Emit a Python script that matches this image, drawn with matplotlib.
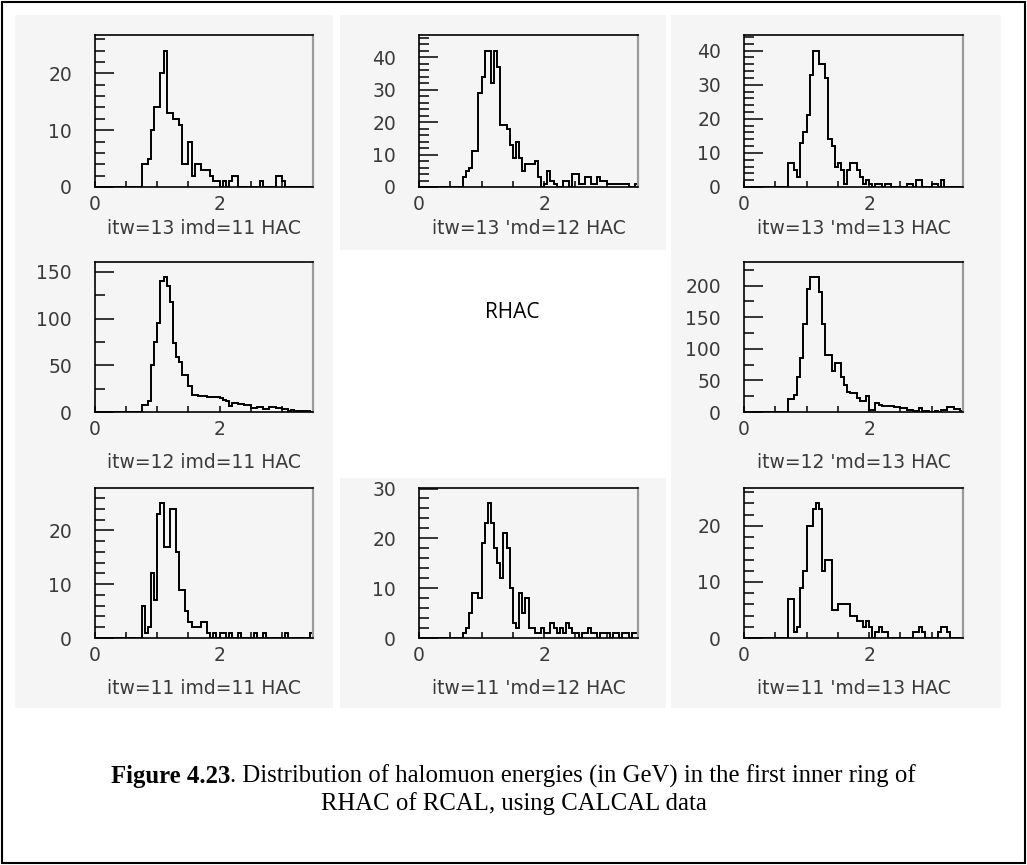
import numpy as np
import matplotlib
matplotlib.use("Agg")
import matplotlib.pyplot as plt
from matplotlib.ticker import MultipleLocator, FixedLocator
from matplotlib.patches import Rectangle

# ---------------- data (counts per 0.05 GeV bin, 0 - 3.5 GeV) ----------------
E_LOW, E_HIGH, N_BINS = 0.0, 3.5, 70

itw13_imd11 = [0,0,0,0,0,0,0,0,0,0, 0,0,0,0,0,4,4,5,10,14, 14,20,24,13,13,12,12,11,4,4,
               8,2,4,4,3,3,3,2,1,1, 0,1,0,1,2,2,0,0,0,0, 0,0,0,1,0,0,0,0,2,2, 1,0,0,0,0,0,0,0,0,0]
itw13_imd12 = [0,0,0,0,0,0,0,0,0,0, 0,0,0,0,3,5,6,11,11,29, 34,42,42,32,42,37,19,19,18,13,
               9,14,9,5,7,7,7,8,3,0, 1,5,2,1,0,0,2,2,0,4, 4,1,1,3,3,1,1,3,2,2, 1,1,1,1,1,1,1,0,0,1]
itw13_imd13 = [0,0,0,0,0,0,0,0,0,0, 0,0,0,0,7,7,5,3,13,16, 21,33,40,40,36,36,32,14,12,6,
               7,5,1,5,7,7,5,3,1,2, 1,0,1,1,0,1,1,0,0,0, 0,0,1,1,0,2,2,0,0,0, 1,1,0,2,0,0,0,0,0,0]
itw12_imd11 = [0,0,0,0,0,0,0,0,0,0, 0,0,0,0,0,8,8,12,50,75, 95,140,144,135,118,74,59,54,40,40,
               28,18,18,17,17,17,16,16,16,16, 15,13,12,6,10,10,9,9,7,7, 4,4,5,5,3,3,5,5,4,4,
               3,3,1,2,1,1,1,1,1,0]
itw12_imd13 = [0,0,0,0,0,0,0,0,0,0, 0,0,0,0,20,20,27,55,85,140, 195,213,213,213,190,140,90,90,65,78,
               78,55,42,32,30,30,22,18,18,25, 3,3,15,11,9,9,10,10,8,8, 6,6,3,3,1,1,6,2,1,0,
               0,1,0,3,3,8,8,4,4,1]
itw11_imd11 = [0,0,0,0,0,0,0,0,0,0, 0,0,0,0,0,6,1,2,12,7, 23,25,17,17,24,24,16,9,9,5,
               3,2,2,2,3,3,1,0,1,0, 1,1,0,1,0,0,1,0,0,0, 0,1,0,0,1,0,0,0,0,0, 0,1,0,0,0,0,0,0,0,1]
itw11_imd12 = [0,0,0,0,0,0,0,0,0,0, 0,0,0,0,1,2,5,9,9,8, 19,23,27,23,18,15,12,21,18,10,
               3,2,9,5,8,2,2,1,1,2, 1,1,3,2,1,2,1,3,2,1, 1,0,1,1,2,1,1,0,1,1, 1,0,1,1,0,1,1,0,1,1]
itw11_imd13 = [0,0,0,0,0,0,0,0,0,0, 0,0,0,0,7,7,1,2,9,12, 20,20,23,24,23,12,14,14,5,5,
               6,6,6,6,4,4,3,3,2,3, 2,0,1,2,1,1,0,0,0,0, 0,0,0,0,1,1,2,1,0,0, 0,0,1,2,2,1,0,0,0,0]

panel_labels = ["itw=13 imd=11 HAC", "itw=13 'md=12 HAC", "itw=13 'md=13 HAC",
                "itw=12 imd=11 HAC", "itw=12 'md=13 HAC",
                "itw=11 imd=11 HAC", "itw=11 'md=12 HAC", "itw=11 'md=13 HAC"]
x_tick_labels = ["0", "2"]
center_text = "RHAC"
caption_bold = "Figure 4.23"
caption_rest = ". Distribution of halomuon energies (in GeV) in the first inner ring of"
caption_line2 = "RHAC of RCAL, using CALCAL data"

# ---------------- layout ----------------
W, H = 1027, 865
fig = plt.figure(figsize=(W / 100, H / 100), dpi=100)
fig.patch.set_facecolor("white")

col_x = [(95, 313), (419, 638), (744, 963)]
row_y = [(35, 187), (262, 412), (488, 638)]
label_off = [41, 51, 51]
TXT = "#3a3a3a"
FS = 13.5

# light grey backgrounds of the pasted histogram pictures
bg_cols = [(15, 333), (340, 666), (671, 1001)]
bg_rows = [(15, 250), (250, 478), (478, 708)]
for ri, (y0, y1) in enumerate(bg_rows):
    for ci, (x0, x1) in enumerate(bg_cols):
        if ri == 1 and ci == 1:
            continue
        fig.add_artist(Rectangle((x0 / W, 1 - y1 / H), (x1 - x0) / W, (y1 - y0) / H,
                                 transform=fig.transFigure, fc="#f5f5f5", ec="none", zorder=-1))

panels = [
    (0, 0, itw13_imd11, panel_labels[0], 10, 2),
    (0, 1, itw13_imd12, panel_labels[1], 10, 2),
    (0, 2, itw13_imd13, panel_labels[2], 10, 2),
    (1, 0, itw12_imd11, panel_labels[3], 50, 25),
    (1, 2, itw12_imd13, panel_labels[4], 50, 25),
    (2, 0, itw11_imd11, panel_labels[5], 10, 2),
    (2, 1, itw11_imd12, panel_labels[6], 10, 2),
    (2, 2, itw11_imd13, panel_labels[7], 10, 2),
]

edges = np.linspace(E_LOW, E_HIGH, N_BINS + 1)

for r, c, vals, lab, major, minor in panels:
    l, rr = col_x[c]
    t, b = row_y[r]
    ax = fig.add_axes([l / W, 1 - b / H, (rr - l) / W, (b - t) / H])
    ax.set_facecolor("none")
    ax.stairs(vals, edges, baseline=0, color="black", lw=1.4)
    ax.set_xlim(E_LOW, E_HIGH)
    ax.set_ylim(0, 1.115 * max(vals))
    ax.xaxis.set_major_locator(FixedLocator([0, 2]))
    ax.set_xticklabels(x_tick_labels)
    ax.xaxis.set_minor_locator(MultipleLocator(0.5))
    ax.yaxis.set_major_locator(MultipleLocator(major))
    ax.yaxis.set_minor_locator(MultipleLocator(minor))
    ax.tick_params(axis="y", which="major", direction="in", length=13.7, width=1.1,
                   pad=16.5, labelsize=FS, labelcolor=TXT)
    ax.tick_params(axis="y", which="minor", direction="in", length=7.3, width=1.1)
    ax.tick_params(axis="x", which="both", direction="in", length=4.3, width=1.1,
                   pad=5.5, labelsize=FS, labelcolor=TXT)
    for s in ("left", "bottom", "top"):
        ax.spines[s].set_color("black")
        ax.spines[s].set_linewidth(1.2)
    ax.spines["right"].set_color("#9a9a9a")
    ax.spines["right"].set_linewidth(1.6)
    fig.text((l + rr) / 2 / W, 1 - (b + label_off[r]) / H, lab, ha="center", va="center",
             fontsize=FS, color=TXT)

fig.text(512 / W, 1 - 313 / H, center_text, ha="center", va="center",
         fontsize=15, family="Open Sans", color="black")

# caption (bold figure number + regular text), centred
CAP_FS = 17.8
y1 = 1 - 776 / H
t1 = fig.text(0, y1, caption_bold, fontsize=CAP_FS, family="Liberation Serif",
              weight="bold", ha="left", va="center")
t2 = fig.text(0, y1, caption_rest, fontsize=CAP_FS, family="Liberation Serif",
              ha="left", va="center")
rend = fig.canvas.get_renderer()
w1 = t1.get_window_extent(rend).width
w2 = t2.get_window_extent(rend).width
x0 = (W - (w1 + w2)) / 2
t1.set_x(x0 / W)
t2.set_x((x0 + w1) / W)
fig.text(0.5, 1 - 804 / H, caption_line2, fontsize=CAP_FS, family="Liberation Serif",
         ha="center", va="center")

# outer frame
fig.add_artist(Rectangle((2 / W, 2 / H), (W - 4) / W, (H - 4) / H, transform=fig.transFigure,
                         fill=False, ec="black", lw=1.5))

fig.savefig("out.png", dpi=100)
